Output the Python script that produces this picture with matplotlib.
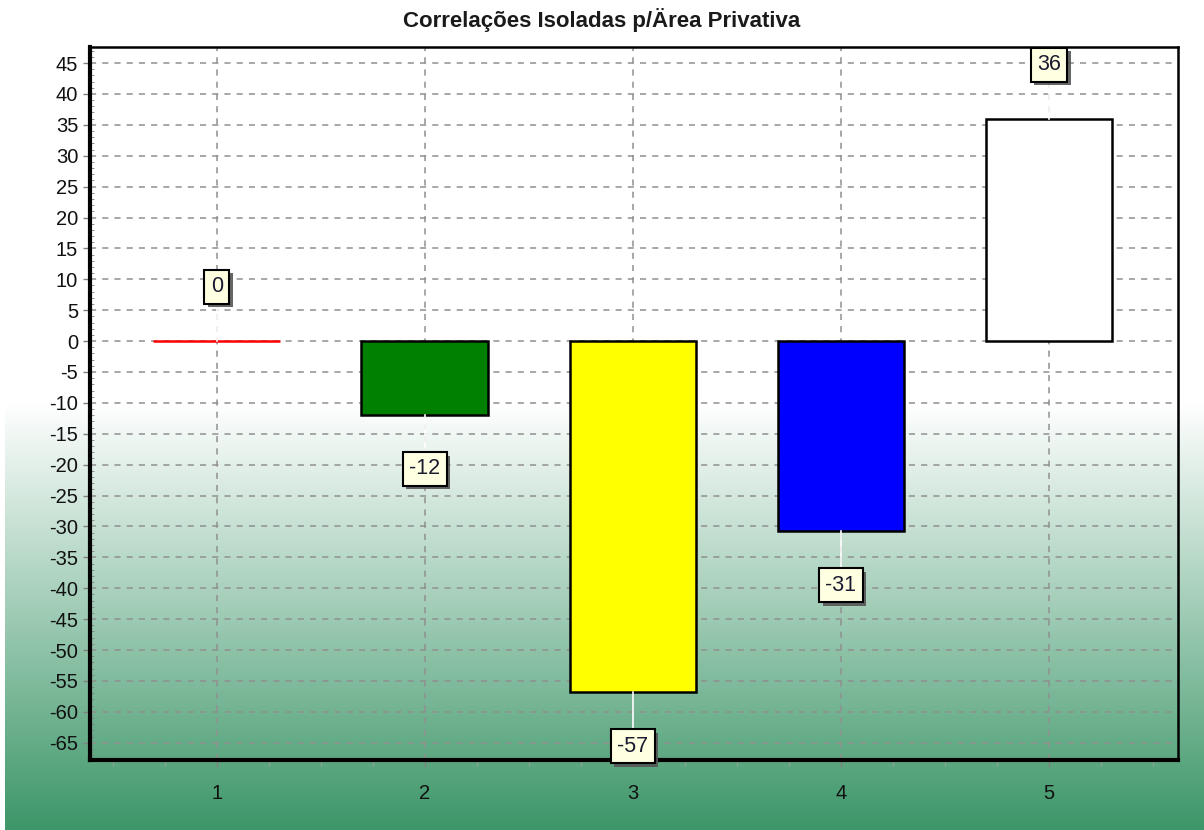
import numpy as np
import matplotlib
matplotlib.use("Agg")
import matplotlib.pyplot as plt
import matplotlib.patheffects as pe
from matplotlib.ticker import MultipleLocator

# data
categories = [1, 2, 3, 4, 5]
values = [0, -11.9, -56.8, -30.7, 35.9]
bar_colors = ["red", "green", "yellow", "blue", "white"]
edge_colors = ["red", "black", "black", "black", "black"]
labels = [str(int(round(v))) for v in values]
title = "Correlações Isoladas p/Ärea Privativa"

plt.rcParams["font.family"] = ["Liberation Sans", "DejaVu Sans"]
plt.rcParams["axes.unicode_minus"] = False

fig = plt.figure(figsize=(12.04, 8.30), dpi=100)

# background: white top, green gradient on the lower half
bg = fig.add_axes([0, 0, 1, 1], zorder=-10)
bg.set_axis_off()
H, W = 830, 1204
top_col = np.array([1.0, 1.0, 1.0])
bot_col = np.array([60, 150, 104]) / 255.0
img = np.ones((H, W, 3))
start = 403
t = np.clip((np.arange(H) - start) / (H - start), 0, 1)[:, None]
grad = top_col * (1 - t) + bot_col * t
img[:, 5:, :] = grad[:, None, :]
bg.imshow(img, aspect="auto", extent=[0, 1, 0, 1], origin="upper")
bg.set_xlim(0, 1)
bg.set_ylim(0, 1)

ax = fig.add_axes([90 / 1204, 1 - 760 / 830, (1178 - 90) / 1204, (760 - 47) / 830])
ax.patch.set_alpha(0)

ax.bar(categories, values, width=0.61, color=bar_colors, edgecolor=edge_colors,
       linewidth=1.8, zorder=3)

off = 8.8
for x, v, lab in zip(categories, values, labels):
    ly = v - off if v < 0 else v + off
    ax.plot([x, x], [v, ly], color="white", lw=1.2, zorder=4)
    t_ = ax.text(x, ly, lab, ha="center", va="center", fontsize=15.5, color="#1a1a30",
                 zorder=6,
                 bbox=dict(boxstyle="square,pad=0.3", fc="#ffffe1", ec="black", lw=1.5))
    t_.get_bbox_patch().set_path_effects([
        pe.SimplePatchShadow(offset=(2.5, -2.5), shadow_rgbFace="#555555", alpha=0.9),
        pe.Normal()])

ax.set_xlim(0.39, 5.62)
ax.set_ylim(-67.8, 47.6)
ax.set_xticks(categories)
ax.xaxis.set_minor_locator(MultipleLocator(0.25))
ax.set_yticks(np.arange(-65, 46, 5))
ax.yaxis.set_minor_locator(MultipleLocator(1))

ax.grid(True, which="major", color="#909090", linestyle=(0, (4, 4)), lw=1.1, zorder=1)
ax.set_axisbelow(True)

ax.tick_params(axis="both", which="major", labelsize=14.5, colors="#808080",
               labelcolor="#111111", length=5, width=1)
ax.tick_params(axis="y", which="minor", direction="in", length=3, colors="#808080")
ax.tick_params(axis="x", which="minor", direction="out", length=4, colors="#a0a0a0")
ax.tick_params(axis="x", which="major", pad=12)

for s in ["left", "bottom"]:
    ax.spines[s].set_linewidth(3)
for s in ["top", "right"]:
    ax.spines[s].set_linewidth(1.8)

fig.text(0.5, 1 - 20 / 830, title, ha="center", va="center", fontsize=16,
         fontweight="bold", color="#1a1a1a")

fig.savefig("out.png", dpi=100)
